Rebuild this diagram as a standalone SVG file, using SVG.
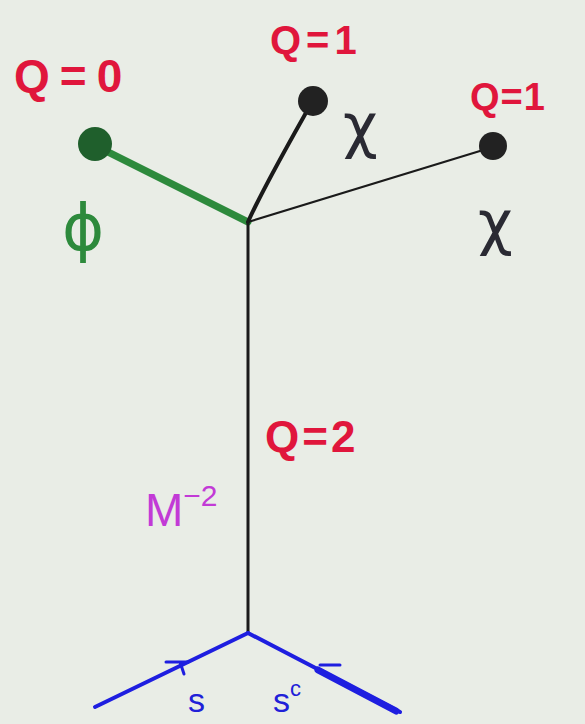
<svg xmlns="http://www.w3.org/2000/svg" width="585" height="724" viewBox="0 0 585 724">
<style>
.q{font-family:"Liberation Sans",Arial,sans-serif;font-weight:bold;fill:#e0163c}
.chi{font-family:"DejaVu Sans",sans-serif;fill:#2a2a33}
.bl{font-family:"Liberation Sans",Arial,sans-serif;fill:#2020d8}
</style>
<rect width="585" height="724" fill="#e9ede6"/>
<g id="connectors" fill="none" stroke-linecap="round">
<line x1="248" y1="222" x2="94" y2="145" stroke="#2d8a3c" stroke-width="7"/>
<path d="M248,222 C262,190 285,150 312,102" stroke="#1a1a1a" stroke-width="4"/>
<line x1="248" y1="222" x2="493" y2="147" stroke="#1a1a1a" stroke-width="2.2"/>
<line x1="248" y1="222" x2="248" y2="633" stroke="#1a1a1a" stroke-width="3"/>
<line x1="248" y1="633" x2="95" y2="707" stroke="#1e1ee0" stroke-width="4"/>
<line x1="248" y1="633" x2="400" y2="712" stroke="#1e1ee0" stroke-width="4"/>
<line x1="318" y1="670" x2="396" y2="711" stroke="#1e1ee0" stroke-width="7"/>
<path d="M166,662 L188,662 M180,662 L184,674" stroke="#1e1ee0" stroke-width="3"/>
<path d="M320,665 L340,665" stroke="#1e1ee0" stroke-width="3"/>
</g>
<g id="phi-node">
<circle cx="95" cy="144" r="17" fill="#1f5f2c"/>
<text x="62" y="250" font-family="DejaVu Sans,sans-serif" font-size="64" fill="#2d8a3c">ϕ</text>
<text class="q" x="14" y="92" font-size="46" letter-spacing="10">Q=0</text>
</g>
<g id="chi-node-1">
<circle cx="313" cy="101" r="15" fill="#222"/>
<text class="chi" x="343" y="146" font-size="60">χ</text>
<text class="q" x="270" y="54" font-size="40" letter-spacing="5">Q=1</text>
</g>
<g id="chi-node-2">
<circle cx="493" cy="146" r="14" fill="#222"/>
<text class="chi" x="478" y="243" font-size="60">χ</text>
<text class="q" x="470" y="110" font-size="38" letter-spacing="1">Q=1</text>
</g>
<g id="propagator-labels">
<text class="q" x="265" y="452" font-size="44" letter-spacing="3">Q=2</text>
<text x="145" y="526" font-family="Liberation Sans,Arial,sans-serif" font-size="46" fill="#c23ad6">M<tspan font-size="30" dy="-20">−2</tspan></text>
</g>
<g id="external-labels">
<text class="bl" x="188" y="712" font-size="34">s</text>
<text class="bl" x="273" y="712" font-size="34">s<tspan font-size="22" dy="-16">c</tspan></text>
</g>
</svg>
